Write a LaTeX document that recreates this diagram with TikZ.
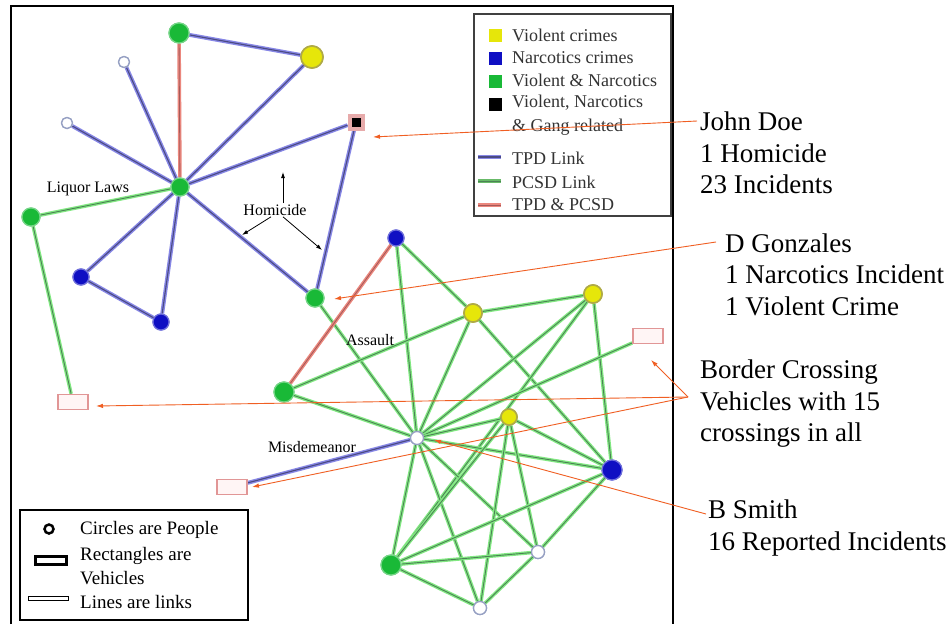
\documentclass[tikz,border=0pt]{standalone}
\usepackage{fontspec}
\setmainfont{Liberation Serif}
\newfontfamily\tnr{Liberation Serif}
\usetikzlibrary{arrows.meta}
\definecolor{tpdL}{RGB}{135,135,230}
\definecolor{tpdD}{RGB}{75,75,130}
\definecolor{pcsdL}{RGB}{130,232,130}
\definecolor{pcsdD}{RGB}{75,130,85}
\definecolor{bothL}{RGB}{235,135,125}
\definecolor{bothD}{RGB}{165,90,90}
\definecolor{annC}{RGB}{240,95,35}
\definecolor{gFill}{RGB}{25,185,55}
\definecolor{bFill}{RGB}{15,15,195}
\definecolor{yFill}{RGB}{230,230,10}
\definecolor{yRim}{RGB}{175,170,70}
\definecolor{wRim}{RGB}{150,160,195}
\definecolor{vRim}{RGB}{225,150,150}
\tikzset{
  tpd/.style={draw=tpdL, double=tpdD, line width=1.4pt, double distance=1.1pt},
  pcsd/.style={draw=pcsdL, double=pcsdD, line width=1.3pt, double distance=0.9pt},
  both/.style={draw=bothL, double=bothD, line width=1.4pt, double distance=0.8pt},
  gp/.style={circle, inner sep=0pt, minimum size=18pt, fill=gFill, draw=gFill!60!white, line width=1.2pt},
  bp/.style={circle, inner sep=0pt, minimum size=16pt, fill=bFill, draw=bFill!60!white, line width=1.2pt},
  yp/.style={circle, inner sep=0pt, minimum size=18pt, fill=yFill, draw=yRim, line width=1.6pt},
  wp/.style={circle, inner sep=0pt, minimum size=11pt, fill=white, draw=wRim, line width=1.3pt},
  veh/.style={rectangle, inner sep=0pt, minimum width=30pt, minimum height=15pt, fill=red!4, draw=vRim, line width=1.5pt},
  jdbox/.style={rectangle, inner sep=0pt, minimum size=13pt, fill=black, draw=vRim!80, line width=4pt},
  ann/.style={draw=annC, line width=0.9pt, -{Latex[length=7pt,width=4.5pt]}},
  hom/.style={draw=black, line width=0.8pt, -{Latex[length=6pt,width=4pt]}},
  big/.style={font=\tnr\fontsize{27}{31}\selectfont, anchor=base west, inner sep=0pt},
  lbl/.style={font=\tnr\fontsize{16}{18}\selectfont, inner sep=1pt},
  lgd/.style={font=\tnr\fontsize{18}{20}\selectfont, anchor=west, inner sep=0pt, text=black!80},
  lgd2/.style={font=\tnr\fontsize{19}{21}\selectfont, anchor=west, inner sep=0pt},
}
\begin{document}
\begin{tikzpicture}[x=1pt,y=-1pt]
\useasboundingbox (0,0) rectangle (952,624);
\fill[white] (0,0) rectangle (952,624);
% main frame
\draw[line width=1.2pt] (11,624) -- (11,6) -- (673,6) -- (673,624);

% nodes upper cluster
\node[gp, minimum size=20pt] (A1) at (179,33) {};
\node[yp, minimum size=22pt] (Y1) at (312,57) {};
\node[wp] (W1) at (124,62) {};
\node[wp] (W2) at (67,123) {};
\node[jdbox] (JD) at (356,122) {};
\node[gp] (HB) at (180,187) {};
\node[gp] (GL) at (31,217) {};
\node[bp] (B1) at (81,277) {};
\node[bp] (B2) at (161,322) {};
\node[gp] (DG) at (315,298) {};
\node[veh] (V3) at (73,402) {};

% lower cluster
\node[bp] (B3) at (396,238) {};
\node[yp] (Y2) at (473,313) {};
\node[yp] (Y3) at (593,294) {};
\node[veh] (V1) at (648,336) {};
\node[gp, minimum size=20pt] (G2) at (284,392) {};
\node[wp, minimum size=13pt] (BS) at (417,438) {};
\node[yp, minimum size=16pt] (Y4) at (509,417) {};
\node[bp, minimum size=20pt] (B4) at (612,470) {};
\node[veh] (V2) at (232,487) {};
\node[gp, minimum size=20pt] (G3) at (391,565) {};
\node[wp, minimum size=13pt] (W3) at (538,552) {};
\node[wp, minimum size=13pt] (W4) at (480,608) {};

% edges
\draw[tpd] (HB) -- (W1);
\draw[tpd] (HB) -- (W2);
\draw[tpd] (HB) -- (Y1);
\draw[tpd] (HB) -- (JD);
\draw[tpd] (HB) -- (B1);
\draw[tpd] (HB) -- (B2);
\draw[tpd] (HB) -- (DG);
\draw[tpd] (A1) -- (Y1);
\draw[tpd] (JD) -- (DG);
\draw[tpd] (B1) -- (B2);
\draw[both] (HB) -- (A1);
\draw[pcsd] (HB) -- (GL);
\draw[pcsd] (GL) -- (V3);
\draw[pcsd] (DG) -- (BS);
\draw[both] (B3) -- (G2);
\draw[tpd] (BS) -- (V2);
\draw[pcsd] (B3) -- (Y2);
\draw[pcsd] (B3) -- (BS);
\draw[pcsd] (Y2) -- (Y3);
\draw[pcsd] (Y2) -- (G2);
\draw[pcsd] (Y2) -- (BS);
\draw[pcsd] (Y2) -- (B4);
\draw[pcsd] (Y3) -- (BS);
\draw[pcsd] (Y3) -- (B4);
\draw[pcsd] (Y3) -- (G3);
\draw[pcsd] (V1) -- (BS);
\draw[pcsd] (G2) -- (BS);
\draw[pcsd] (BS) -- (Y4);
\draw[pcsd] (BS) -- (B4);
\draw[pcsd] (BS) -- (G3);
\draw[pcsd] (BS) -- (W3);
\draw[pcsd] (BS) -- (W4);
\draw[pcsd] (Y4) -- (G3);
\draw[pcsd] (Y4) -- (W4);
\draw[pcsd] (Y4) -- (W3);
\draw[pcsd] (Y4) -- (B4);
\draw[pcsd] (B4) -- (G3);
\draw[pcsd] (B4) -- (W3);
\draw[pcsd] (G3) -- (W3);
\draw[pcsd] (G3) -- (W4);
\draw[pcsd] (W3) -- (W4);

% redraw nodes on top of the links
\node[gp, minimum size=20pt] at (A1) {};
\node[yp, minimum size=22pt] at (Y1) {};
\node[wp] at (W1) {};
\node[wp] at (W2) {};
\node[jdbox] at (JD) {};
\node[gp] at (HB) {};
\node[gp] at (GL) {};
\node[bp] at (B1) {};
\node[bp] at (B2) {};
\node[gp] at (DG) {};
\node[veh] at (V3) {};
\node[bp] at (B3) {};
\node[yp] at (Y2) {};
\node[yp] at (Y3) {};
\node[veh] at (V1) {};
\node[gp, minimum size=20pt] at (G2) {};
\node[wp, minimum size=13pt] at (BS) {};
\node[yp, minimum size=16pt] at (Y4) {};
\node[bp, minimum size=20pt] at (B4) {};
\node[veh] at (V2) {};
\node[gp, minimum size=20pt] at (G3) {};
\node[wp, minimum size=13pt] at (W3) {};
\node[wp, minimum size=13pt] at (W4) {};

% edge labels
\node[lbl] (liq) at (88,189) {Liquor Laws};
\node[lbl] (homi) at (275,210) {Homicide};
\node[lbl] (asl) at (370,340) {Assault};
\node[lbl] (misd) at (312,447) {Misdemeanor};
\coordinate (hU) at (283,172);
\coordinate (hL) at (242,235);
\coordinate (hR) at (322,250);
\draw[hom] (homi.north -| hU) -- (hU);
\draw[hom] ([xshift=-4pt]homi.south) -- (hL);
\draw[hom] ([xshift=8pt]homi.south) -- (hR);

% top-right legend
\draw[line width=2.5pt, draw=black!75] (474,14) rectangle (671,216);
\node[rectangle, fill=yFill, minimum size=13pt, inner sep=0pt] (ly) at (495,35) {};
\node[rectangle, fill=bFill, minimum size=13pt, inner sep=0pt] (lb) at (495,58) {};
\node[rectangle, fill=gFill, minimum size=13pt, inner sep=0pt] (lg) at (495,81) {};
\node[rectangle, fill=black, minimum size=13pt, inner sep=0pt] (lk) at (495,104) {};
\node[lgd] (t1) at (512,35) {Violent crimes};
\node[lgd] (t2) at (512,58) {Narcotics crimes};
\node[lgd] (t3) at (512,80) {Violent \& Narcotics};
\node[lgd] (t4) at (512,103) {Violent, Narcotics};
\node[lgd] (t5) at (512,127) {\& Gang related};
\node[lgd] (t6) at (512,158) {TPD Link};
\node[lgd] (t7) at (512,182) {PCSD Link};
\node[lgd] (t8) at (512,205) {TPD \& PCSD};
\coordinate (l1a) at (478,157); \coordinate (l1b) at (501,157);
\coordinate (l2a) at (478,181); \coordinate (l2b) at (501,181);
\coordinate (l3a) at (478,205); \coordinate (l3b) at (501,205);
\draw[tpd] (l1a) -- (l1b);
\draw[pcsd, draw=pcsdL!80!black] (l2a) -- (l2b);
\draw[both] (l3a) -- (l3b);

% bottom-left legend
\draw[line width=2.5pt] (20,510) rectangle (248,620);
\node[circle, draw=black, line width=2.5pt, minimum size=9pt, inner sep=0pt] (lc) at (49,529) {};
\node[rectangle, draw=black, line width=3pt, minimum width=31pt, minimum height=8pt, inner sep=0pt] (lr) at (51,560) {};
\node[rectangle, draw=black, line width=0.8pt, minimum width=40pt, minimum height=4pt, inner sep=0pt, fill=white] (ll) at (48,598) {};
\node[lgd2] (b1) at (80,530) {Circles are People};
\node[lgd2] (b2) at (80,556) {Rectangles are};
\node[lgd2] (b3) at (80,578) {Vehicles};
\node[lgd2] (b4) at (80,602) {Lines are links};

% annotations
\node[big] (jd1) at (700,130) {John Doe};
\node[big] (jd2) at (700,162) {1 Homicide};
\node[big] (jd3) at (700,193) {23 Incidents};
\node[big] (dg1) at (725,252) {D Gonzales};
\node[big] (dg2) at (725,283) {1 Narcotics Incident};
\node[big] (dg3) at (725,315) {1 Violent Crime};
\node[big] (bc1) at (700,378) {Border Crossing};
\node[big] (bc2) at (700,410) {Vehicles with 15};
\node[big] (bc3) at (700,441) {crossings in all};
\node[big] (bs1) at (708,518) {B Smith};
\node[big] (bs2) at (708,550) {16 Reported Incidents};

\coordinate (jdS) at (697,121);
\coordinate (jdT) at (373,137);
\coordinate (dgS) at (716,242);
\coordinate (dgT) at (334,299);
\coordinate (bcS) at (688,397);
\coordinate (v1T) at (651,360);
\coordinate (v3T) at (96,406);
\coordinate (v2T) at (252,487);
\coordinate (bsS) at (706,514);
\coordinate (bsT) at (434,440);
\draw[ann] (jdS) -- (jdT);
\draw[ann] (dgS) -- (dgT);
\draw[ann] (bcS) -- (v1T);
\draw[ann] (bcS) -- (v3T);
\draw[ann] (bcS) -- (v2T);
\draw[ann] (bsS) -- (bsT);
\end{tikzpicture}
\end{document}
